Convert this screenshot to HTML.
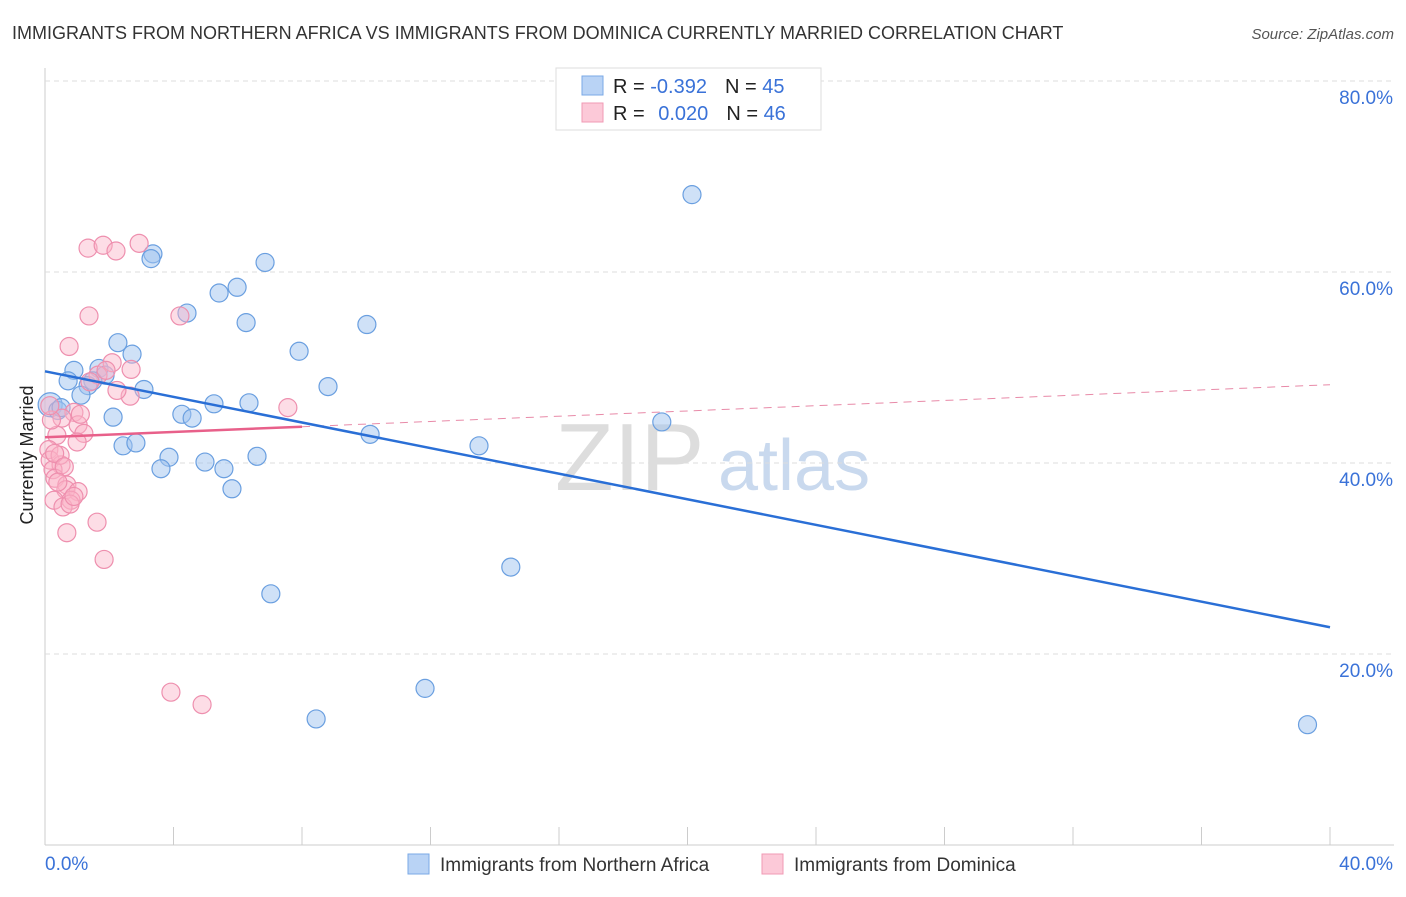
<!DOCTYPE html>
<html><head><meta charset="utf-8"><style>
body{margin:0;background:#fff;font-family:"Liberation Sans",sans-serif;}
svg text{font-family:"Liberation Sans",sans-serif;}
</style></head><body>
<svg id="chart" width="1406" height="892">
<text x="12" y="39" font-size="18" fill="#333">IMMIGRANTS FROM NORTHERN AFRICA VS IMMIGRANTS FROM DOMINICA CURRENTLY MARRIED CORRELATION CHART</text>
<text x="1394" y="39" font-size="15" fill="#555" font-style="italic" text-anchor="end">Source: ZipAtlas.com</text>
<text x="33" y="455" font-size="18" fill="#222" text-anchor="middle" transform="rotate(-90 33 455)">Currently Married</text>
<text x="555" y="490" font-size="96" fill="#ddd" font-family="Liberation Serif">ZIP</text>
<text x="718" y="490" font-size="72" fill="#c9d9ee">atlas</text>
<g id="grid"></g><g id="pts"></g><g id="lines"></g>
<g>
<rect x="556" y="68" width="265" height="62" fill="#fff" stroke="#ddd"/>
<rect x="582" y="76" width="21" height="19" fill="#b9d3f5" stroke="#7aa8e6"/>
<rect x="582" y="103" width="21" height="19" fill="#fcc9d8" stroke="#f09ab4"/>
<text x="613" y="93" font-size="20" fill="#222">R = <tspan fill="#3a72d8">-0.392</tspan><tspan dx="18">N = </tspan><tspan fill="#3a72d8">45</tspan></text>
<text x="613" y="120" font-size="20" fill="#222">R = <tspan fill="#3a72d8" dx="8">0.020</tspan><tspan dx="18">N = </tspan><tspan fill="#3a72d8">46</tspan></text>
</g>
<g>
<rect x="408" y="854" width="21" height="20" fill="#b9d3f5" stroke="#7aa8e6"/>
<text x="440" y="871" font-size="19" fill="#333">Immigrants from Northern Africa</text>
<rect x="762" y="854" width="21" height="20" fill="#fcc9d8" stroke="#f09ab4"/>
<text x="794" y="871" font-size="19" fill="#333">Immigrants from Dominica</text>
</g>
</svg>
<script>
const yTicks=[20,40,60,80];
const yTickLabels=["20.0%","40.0%","60.0%","80.0%"];
const xTickLabels=["0.0%","40.0%"];
const blueX=[20.14,3.36,3.30,6.85,5.98,5.42,4.42,6.26,10.02,2.27,2.71,7.91,1.68,0.90,1.87,0.72,1.49,1.34,3.08,8.81,1.12,0.16,5.26,6.35,0.40,4.26,4.58,2.12,19.2,10.12,13.51,2.43,2.83,3.86,4.98,6.60,3.61,5.57,5.82,14.5,7.03,11.83,8.44,39.3,0.5];
const blueY=[68.1,61.9,61.4,61.0,58.4,57.8,55.7,54.7,54.5,52.6,51.4,51.7,49.9,49.7,49.2,48.6,48.6,48.1,47.7,48.0,47.1,46.1,46.2,46.3,45.5,45.1,44.7,44.8,44.3,43.0,41.8,41.8,42.1,40.6,40.1,40.7,39.4,39.4,37.3,29.1,26.3,16.4,13.2,12.6,45.8];
const pinkX=[2.93,1.34,1.81,2.21,4.20,1.37,0.75,2.09,1.65,2.65,2.24,7.56,0.90,0.53,1.03,1.21,0.37,1.00,0.12,0.16,0.50,0.25,0.31,0.68,0.65,1.03,0.81,0.28,0.56,0.78,1.62,0.68,1.84,3.92,4.89,2.68,1.90,0.47,0.2,1.1,0.9,0.3,0.6,1.4,0.15,0.4];
const pinkY=[63.0,62.5,62.8,62.2,55.4,55.4,52.2,50.5,49.2,47.0,47.6,45.8,45.3,44.7,44.0,43.1,42.9,42.2,41.4,40.3,39.8,39.3,38.4,37.7,37.2,37.0,36.1,36.1,35.4,35.7,33.8,32.7,29.9,16.0,14.7,49.8,49.7,40.8,44.5,45.1,36.5,41.0,39.6,48.5,46.0,38.0];
const blueTrend=[49.6,22.8], pinkTrend=[42.7,48.2], pinkSolidEnd=8;
const X0=45,X1=1330,Y0=845,YS=191/20;
const sx=v=>X0+(v/40)*(X1-X0), sy=v=>Y0-v*YS;
const NS="http://www.w3.org/2000/svg";
function mk(t,a,p){const e=document.createElementNS(NS,t);for(const k in a)e.setAttribute(k,a[k]);p.appendChild(e);return e;}
const g=document.getElementById('grid');
let ax=mk('line',{x1:X0,y1:68,x2:X0,y2:Y0,stroke:'#ccc'},g);


let bx=mk('line',{x1:X0,y1:Y0,x2:1394,y2:Y0,stroke:'#ccc'},g);


yTicks.forEach((t,i)=>{
 const l=mk('line',{x1:X0,y1:sy(t),x2:1394,y2:sy(t),stroke:'#ddd','stroke-dasharray':'5,4'},g);
 
 
 const tx=mk('text',{x:1393,y:sy(t)+23,'font-size':19,fill:'#3a72d8','text-anchor':'end'},g);tx.textContent=yTickLabels[i];
 
 
});
for(let i=1;i<=10;i++){const x=X0+i*(X1-X0)/10;
 const l=mk('line',{x1:x,y1:Y0,x2:x,y2:Y0-18,stroke:'#ccc'},g);
 
 }
[[45,'start'],[1393,'end']].forEach((p,i)=>{const t=mk('text',{x:p[0],y:870,'font-size':19,fill:'#3a72d8','text-anchor':p[1]},g);t.textContent=xTickLabels[i];
 
 });
const pg=document.getElementById('pts');
blueX.forEach((x,i)=>{const c=mk('circle',{cx:sx(x),cy:sy(blueY[i]),r:i==21?12:9,fill:'rgba(160,196,240,0.5)',stroke:'#6a9fe0','stroke-width':1.2},pg);
 
 });
pinkX.forEach((x,i)=>{const c=mk('circle',{cx:sx(x),cy:sy(pinkY[i]),r:9,fill:'rgba(250,180,200,0.45)',stroke:'#ee8fae','stroke-width':1.2},pg);
 
 });
const lg=document.getElementById('lines');
const pe=pinkTrend[0]+(pinkTrend[1]-pinkTrend[0])*pinkSolidEnd/40;
let d=mk('line',{x1:sx(pinkSolidEnd),y1:sy(pe),x2:sx(40),y2:sy(pinkTrend[1]),stroke:'#e88aa8','stroke-width':1,'stroke-dasharray':'8,6'},lg);


let ps=mk('line',{x1:sx(0),y1:sy(pinkTrend[0]),x2:sx(pinkSolidEnd),y2:sy(pe),stroke:'#e8608a','stroke-width':2.5},lg);


let bl=mk('line',{x1:sx(0),y1:sy(blueTrend[0]),x2:sx(40),y2:sy(blueTrend[1]),stroke:'#2a6fd6','stroke-width':2.5},lg);


</script>
</body></html>
